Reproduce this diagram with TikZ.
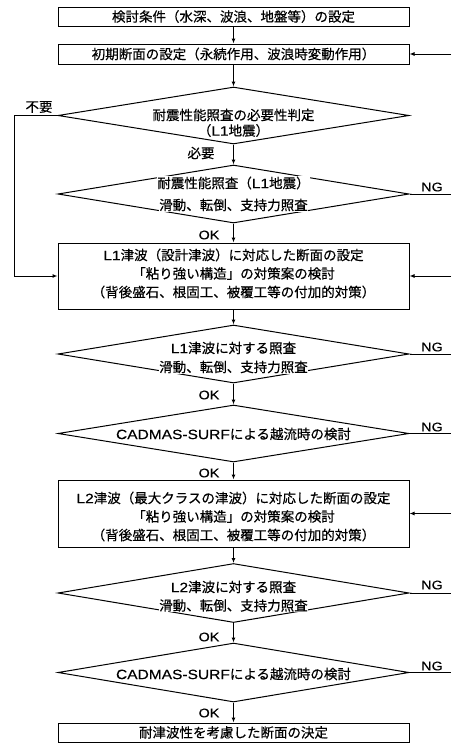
\documentclass[tikz,border=0pt]{standalone}
\usepackage{fontspec}
\setmainfont[FakeBold=0.4]{Noto Sans CJK JP}
\newfontfamily\lat[FakeStretch=1.15,FakeBold=0.3]{Liberation Sans}
\usetikzlibrary{shapes.geometric,arrows.meta}

\begin{document}
\begin{tikzpicture}[x=1pt,y=-1pt,
  font=\fontsize{13.5}{16}\selectfont,
  line width=1pt,
  box/.style={draw,rectangle,minimum width=351pt,inner sep=0pt},
  dia/.style={draw,diamond,minimum width=351pt,inner sep=0pt},
  txt/.style={fill=white,inner sep=0.5pt},
  yn/.style={font=\lat\fontsize{12.5}{14}\selectfont,inner sep=0pt},
  arr/.style={-{Latex[length=5pt,width=4pt]}},
]
\useasboundingbox (0,0) rectangle (451,745);

% free ends at the page edges
\coordinate (lft) at (14,0);
\coordinate (rgt) at (451,0);

% process boxes and decision diamonds
\node[box,minimum height=19pt] (b1) at (233.5,16.5) {検討条件（水深、波浪、地盤等）の設定};
\node[box,minimum height=20pt] (b2) at (233.5,54) {初期断面の設定（永続作用、波浪時変動作用）};

\node[dia,minimum height=57pt] (d1) at (233.5,115.5) {};
\node[txt] (d1a) at (233.5,115) {耐震性能照査の必要性判定};
\node[txt] (d1b) at (233.5,130.5) {（{\lat L1}地震）};

\node[dia,minimum height=58pt] (d2) at (233.5,194) {};
\node[txt] (d2a) at (233.5,183) {耐震性能照査（{\lat L1}地震）};
\node[txt] (d2b) at (233.5,205) {滑動、転倒、支持力照査};

\node[box,minimum height=66pt] (b3) at (233.5,276) {};
\node[txt] (b3a) at (233.5,255) {{\lat L1}津波（設計津波）に対応した断面の設定};
\node[txt] (b3b) at (233.5,273.5) {「粘り強い構造」の対策案の検討};
\node[txt] (b3c) at (233.5,292) {（背後盛石、根固工、被覆工等の付加的対策）};

\node[dia,minimum height=58pt] (d3) at (233.5,354) {};
\node[txt] (d3a) at (233.5,348) {{\lat L1}津波に対する照査};
\node[txt] (d3b) at (233.5,367) {滑動、転倒、支持力照査};

\node[dia,minimum height=57pt] (d4) at (233.5,433.5) {};
\node[txt] (d4a) at (233.5,434) {{\lat CADMAS-SURF}による越流時の検討};

\node[box,minimum height=67pt] (b4) at (233.5,513.5) {};
\node[txt] (b4a) at (233.5,498) {{\lat L2}津波（最大クラスの津波）に対応した断面の設定};
\node[txt] (b4b) at (233.5,516.5) {「粘り強い構造」の対策案の検討};
\node[txt] (b4c) at (233.5,535) {（背後盛石、根固工、被覆工等の付加的対策）};

\node[dia,minimum height=59pt] (d5) at (233.5,593) {};
\node[txt] (d5a) at (233.5,587) {{\lat L2}津波に対する照査};
\node[txt] (d5b) at (233.5,605.5) {滑動、転倒、支持力照査};

\node[dia,minimum height=59pt] (d6) at (233.5,672.5) {};
\node[txt] (d6a) at (233.5,674) {{\lat CADMAS-SURF}による越流時の検討};

\node[box,minimum height=19pt] (b5) at (233.5,732.5) {耐津波性を考慮した断面の決定};

% main downward flow
\draw[arr] (b1.south) -- (b2.north);
\draw[arr] (b2.south) -- (d1.north);
\draw[arr] (d1.south) -- (d2.north);
\draw[arr] (d2.south) -- (b3.north);
\draw[arr] (b3.south) -- (d3.north);
\draw[arr] (d3.south) -- (d4.north);
\draw[arr] (d4.south) -- (b4.north);
\draw[arr] (b4.south) -- (d5.north);
\draw[arr] (d5.south) -- (d6.north);
\draw[arr] (d6.south) -- (b5.north);

% bypass when the seismic check is not needed
\draw[arr] (d1.west) -- (d1.west -| lft) |- (b3.west);

% NG exits to the right
\draw (d2.east) -- (d2.east -| rgt);
\draw (d3.east) -- (d3.east -| rgt);
\draw (d4.east) -- (d4.east -| rgt);
\draw (d5.east) -- (d5.east -| rgt);
\draw (d6.east) -- (d6.east -| rgt);

% returns entering from the right
\draw[arr] (rgt |- b2.east) -- (b2.east);
\draw[arr] (rgt |- b3.east) -- (b3.east);
\draw[arr] (rgt |- b4.east) -- (b4.east);

% branch labels
\node[inner sep=0pt] (no) at (39,107) {不要};
\node[inner sep=0pt] (yes) at (201,153) {必要};
\node[yn] (ok1) at (209,235) {OK};
\node[yn] (ok2) at (209,395) {OK};
\node[yn] (ok3) at (209,473) {OK};
\node[yn] (ok4) at (209,637) {OK};
\node[yn] (ok5) at (209,713) {OK};
\node[yn] (ng1) at (432,187) {NG};
\node[yn] (ng2) at (432,347) {NG};
\node[yn] (ng3) at (432,427) {NG};
\node[yn] (ng4) at (432,585) {NG};
\node[yn] (ng5) at (432,666) {NG};
\end{tikzpicture}
\end{document}
